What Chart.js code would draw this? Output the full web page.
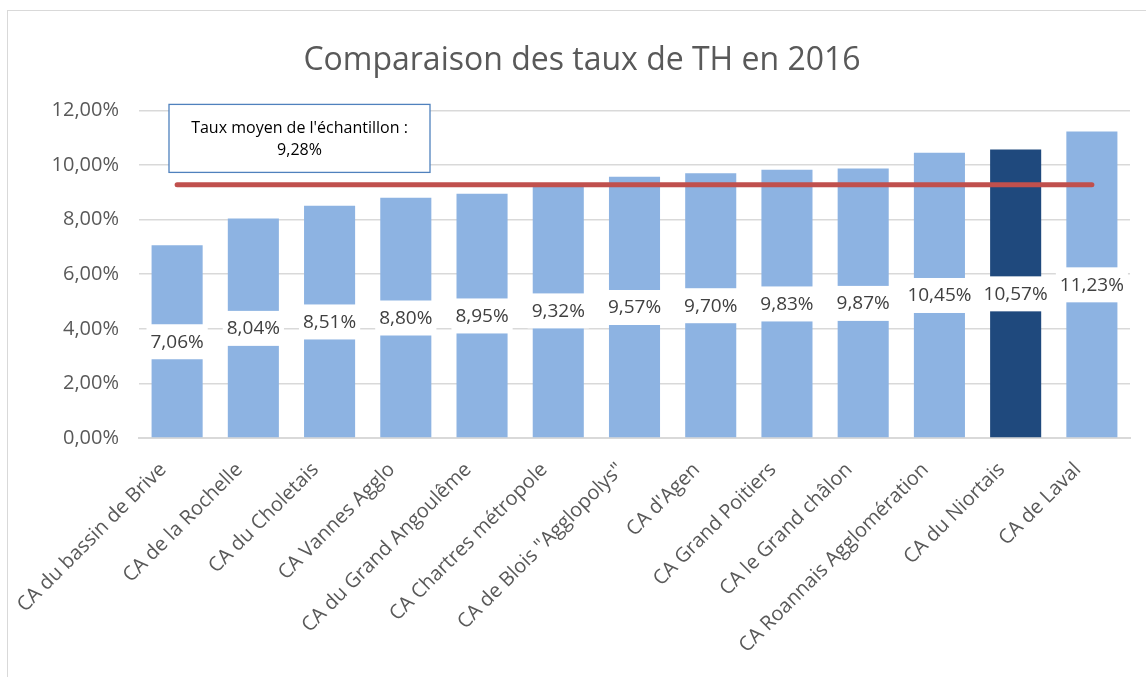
<!DOCTYPE html>
<html>
<head>
<meta charset="utf-8">
<script src="https://cdn.jsdelivr.net/npm/chart.js@4/dist/chart.umd.min.js"></script>
<style>
  html, body { margin: 0; padding: 0; background: #fff; overflow: hidden; }
  #cadre { position: absolute; left: 7px; top: 10px; width: 1160px; height: 700px; border: 1px solid #d9d9d9; }
  #wrap { position: absolute; left: 0; top: 0; width: 1146px; height: 677px; }
</style>
</head>
<body>
<div id="cadre"></div>
<div id="wrap"><canvas id="taux"></canvas></div>
<script>
const categories = ['CA du bassin de Brive', 'CA de la Rochelle', 'CA du Choletais', 'CA Vannes Agglo',
    'CA du Grand Angoulême', 'CA Chartres métropole', 'CA de Blois "Agglopolys"', "CA d'Agen",
    'CA Grand Poitiers', 'CA le Grand châlon', 'CA Roannais Agglomération', 'CA du Niortais', 'CA de Laval'];
const tauxTH = [7.06, 8.04, 8.51, 8.80, 8.95, 9.32, 9.57, 9.70, 9.83, 9.87, 10.45, 10.57, 11.23];
const tauxMoyen = 9.28;
const yTicks = [0, 2, 4, 6, 8, 10, 12];
const mise = 'CA du Niortais'; // la barre en foncé

const fmt = v => v.toFixed(2).replace('.', ',') + '%';

// etiquettes au milieu des barres, fond blanc
const etiquettes = {
    id: 'etiquettes',
    afterDatasetsDraw(chart) {
        const ctx = chart.ctx;
        const meta = chart.getDatasetMeta(1);
        ctx.save();
        ctx.font = '19px "Open Sans"';
        ctx.textAlign = 'center';
        ctx.textBaseline = 'middle';
        meta.data.forEach((bar, i) => {
            const txt = fmt(tauxTH[i]);
            const y = (bar.y + bar.base) / 2;
            const w = ctx.measureText(txt).width + 8;
            ctx.fillStyle = '#fff';
            ctx.fillRect(bar.x - w / 2, y - 17, w, 35);
            ctx.fillStyle = '#404040';
            ctx.fillText(txt, bar.x, y + 1);
        });
        // encadré du taux moyen
        const a = chart.chartArea;
        const bx = a.left + 30, by = a.top - 6, bw = 261, bh = 68;
        ctx.fillStyle = '#fff';
        ctx.fillRect(bx, by, bw, bh);
        ctx.strokeStyle = '#4f81bd';
        ctx.lineWidth = 1.3;
        ctx.strokeRect(bx, by, bw, bh);
        ctx.fillStyle = '#000';
        ctx.font = '16px "Open Sans"';
        ctx.fillText("Taux moyen de l'échantillon :", bx + bw / 2, by + 24);
        ctx.fillText(fmt(tauxMoyen), bx + bw / 2, by + 46);
        ctx.restore();
    }
};

new Chart(document.getElementById('taux'), {
    data: {
        labels: categories,
        datasets: [{
            type: 'line',
            label: 'Taux moyen',
            data: categories.map(() => tauxMoyen),
            borderColor: '#c0504d',
            borderWidth: 5,
            borderCapStyle: 'round',
            pointRadius: 0,
            order: 0
        }, {
            type: 'bar',
            label: 'Taux de TH',
            data: tauxTH,
            backgroundColor: categories.map(c => c === mise ? '#1f497d' : '#8db3e2'),
            barPercentage: 0.67,
            categoryPercentage: 1,
            order: 1
        }]
    },
    options: {
        responsive: true,
        maintainAspectRatio: false,
        animation: false,
        layout: { padding: { left: 34, right: 16, top: 0, bottom: 0 } },
        plugins: {
            legend: { display: false },
            tooltip: { enabled: false },
            title: {
                display: true,
                text: 'Comparaison des taux de TH en 2016',
                color: '#595959',
                font: { family: 'Open Sans', size: 32, weight: 'normal' },
                padding: { top: 42, bottom: 30 }
            }
        },
        scales: {
            x: {
                offset: true,
                grid: { display: false },
                border: { color: '#d9d9d9', width: 2 },
                ticks: {
                    color: '#595959',
                    font: { family: 'Open Sans', size: 20 },
                    minRotation: 45,
                    maxRotation: 45,
                    padding: 12,
                    labelOffset: -14
                },
                afterFit(scale) { scale.height = 239; }
            },
            y: {
                min: 0,
                max: 12,
                afterBuildTicks(scale) { scale.ticks = yTicks.map(v => ({ value: v })); },
                grid: { color: '#d9d9d9', lineWidth: 1.5, drawTicks: false },
                border: { display: false },
                ticks: {
                    color: '#595959',
                    font: { family: 'Open Sans', size: 20 },
                    padding: 20,
                    callback: v => fmt(v)
                },
                afterFit(scale) { scale.width = 105; }
            }
        }
    },
    plugins: [etiquettes]
});
</script>
</body>
</html>
